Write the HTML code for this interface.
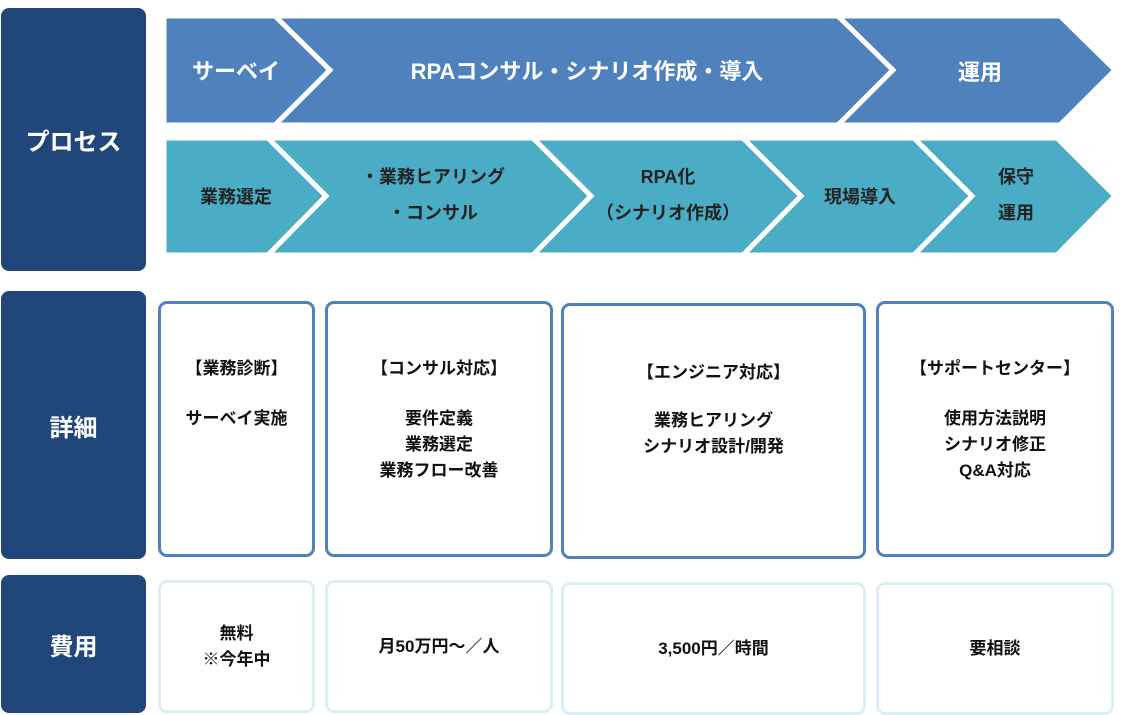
<!DOCTYPE html>
<html><head><meta charset="utf-8"><style>
body{margin:0;width:1121px;height:715px;background:#fff;position:relative;overflow:hidden;font-family:"Liberation Sans","Noto Sans CJK JP",sans-serif;font-weight:bold}
.p{position:absolute;background:#21477a;border-radius:8px;color:#fff;font-size:24px;display:flex;align-items:center;justify-content:center}
.b{position:absolute;box-sizing:border-box;border:3px solid #4f81bd;border-radius:9px;text-align:center;font-size:17px;color:#111;line-height:26px}
.c{position:absolute;box-sizing:border-box;border:3px solid #dbeef4;border-radius:9px;font-size:17px;color:#111;display:flex;align-items:center;justify-content:center;text-align:center;line-height:26px}
svg{position:absolute;left:0;top:0}
</style></head><body>
<div class="p" style="left:1px;top:8px;width:145px;height:263px">プロセス</div>
<div class="p" style="left:1px;top:291px;width:145px;height:268px">詳細</div>
<div class="p" style="left:1px;top:575px;width:145px;height:138px">費用</div>
<svg width="1121" height="280" font-family="Liberation Sans,Noto Sans CJK JP,sans-serif" font-weight="bold">
<g fill="#4f81bd" stroke="#fff" stroke-width="5" stroke-linejoin="miter">
<polygon points="164,16 275,16 330,70 275,125 164,125"/>
<polygon points="275,16 838,16 893,70 838,125 275,125 330,70"/>
<polygon points="838,16 1060,16 1115,70 1060,125 838,125 893,70"/>
</g>
<g fill="#4bacc6" stroke="#fff" stroke-width="5">
<polygon points="164,138 268,138 326,196 268,255 164,255"/>
<polygon points="268,138 533,138 591,196 533,255 268,255 326,196"/>
<polygon points="533,138 743,138 801,196 743,255 533,255 591,196"/>
<polygon points="743,138 914,138 972,196 914,255 743,255 801,196"/>
<polygon points="914,138 1057,138 1115,196 1057,255 914,255 972,196"/>
</g>
<rect x="160" y="12" width="4" height="250" fill="#fff"/>
<g fill="#fff" font-size="22" text-anchor="middle">
<text x="236" y="79">サーベイ</text>
<text x="587" y="79">RPAコンサル・シナリオ作成・導入</text>
<text x="980" y="80">運用</text>
</g>
<g fill="#222" font-size="18" text-anchor="middle">
<text x="236" y="203">業務選定</text>
<text x="433" y="183">・業務ヒアリング</text>
<text x="433" y="219">・コンサル</text>
<text x="668" y="183">RPA化</text>
<text x="668" y="219">（シナリオ作成）</text>
<text x="860" y="203">現場導入</text>
<text x="1016" y="183">保守</text>
<text x="1016" y="219">運用</text>
</g>
</svg>
<div class="b" style="left:158px;top:301px;width:157px;height:256px;padding-top:52px">【業務診断】<br><div style="height:24px"></div>サーベイ実施</div>
<div class="b" style="left:325px;top:301px;width:228px;height:256px;padding-top:52px">【コンサル対応】<br><div style="height:24px"></div>要件定義<br>業務選定<br>業務フロー改善</div>
<div class="b" style="left:561px;top:303px;width:305px;height:256px;padding-top:54px">【エンジニア対応】<br><div style="height:22px"></div>業務ヒアリング<br>シナリオ設計/開発</div>
<div class="b" style="left:876px;top:301px;width:238px;height:256px;padding-top:52px">【サポートセンター】<br><div style="height:24px"></div>使用方法説明<br>シナリオ修正<br>Q&amp;A対応</div>
<div class="c" style="left:158px;top:580px;width:157px;height:133px">無料<br>※今年中</div>
<div class="c" style="left:325px;top:580px;width:228px;height:133px">月50万円〜／人</div>
<div class="c" style="left:561px;top:582px;width:305px;height:133px">3,500円／時間</div>
<div class="c" style="left:876px;top:582px;width:238px;height:133px">要相談</div>
</body></html>
